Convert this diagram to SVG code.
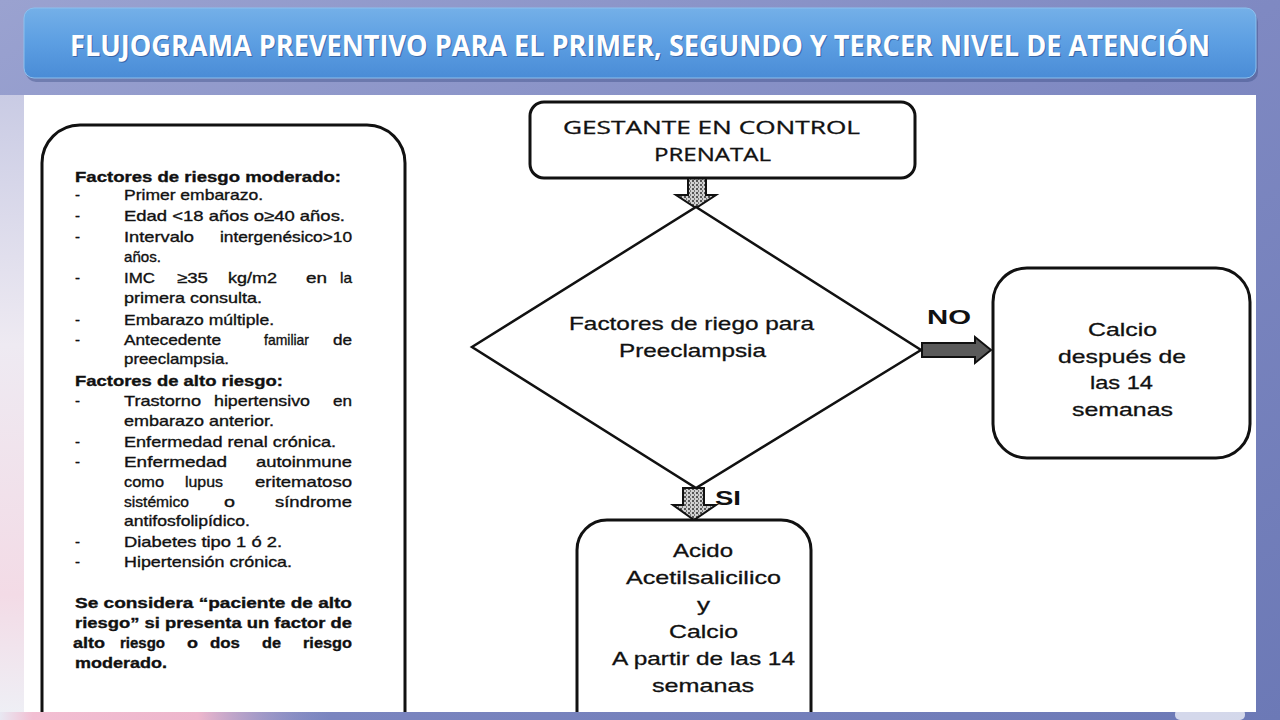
<svg xmlns="http://www.w3.org/2000/svg" width="1280" height="720" viewBox="0 0 1280 720">
<defs>
<linearGradient id="bg" x1="0" y1="0" x2="1" y2="1">
<stop offset="0" stop-color="#9aa2d0"/>
<stop offset="0.5" stop-color="#7f89c2"/>
<stop offset="1" stop-color="#6c79b6"/>
</linearGradient>
<linearGradient id="leftglow" x1="0" y1="0" x2="0" y2="1">
<stop offset="0" stop-color="#c9cbe4"/>
<stop offset="0.4" stop-color="#eeeaf2"/>
<stop offset="0.8" stop-color="#f3dbe6"/>
<stop offset="1" stop-color="#eef0f6"/>
</linearGradient>
<linearGradient id="pink" x1="0" y1="0" x2="1" y2="0">
<stop offset="0" stop-color="#e8e8f2"/>
<stop offset="0.1" stop-color="#f3bed2"/>
<stop offset="0.6" stop-color="#eeb6cc"/>
<stop offset="1" stop-color="#9aa0d0" stop-opacity="0"/>
</linearGradient>
<linearGradient id="titlebar" x1="0" y1="0" x2="0" y2="1">
<stop offset="0" stop-color="#74b0e8"/>
<stop offset="0.5" stop-color="#5c9ee2"/>
<stop offset="1" stop-color="#4a8cd6"/>
</linearGradient>
<pattern id="tex" width="4" height="4" patternUnits="userSpaceOnUse">
<rect width="4" height="4" fill="#d0d0d0"/>
<rect x="0" y="0" width="2" height="2" fill="#555"/>
<rect x="2" y="2" width="1" height="2" fill="#777"/>
</pattern>
<clipPath id="panelclip"><rect x="24" y="95" width="1232" height="617"/></clipPath>
<style>
.box{fill:#fff;stroke:#111;stroke-width:3}
.blk{fill:url(#tex);stroke:#111;stroke-width:2;stroke-linejoin:miter}
.t{font-family:"Liberation Sans",Arial,sans-serif;fill:#111;stroke:#111;stroke-width:0.35;font-size:15px}
.b{font-weight:bold}
.n{font-family:"Liberation Sans",Arial,sans-serif;fill:#111;stroke:#111;stroke-width:0.3;font-size:19px}
.g{font-family:"Open Sans","Liberation Sans",sans-serif;fill:#111;stroke:#111;stroke-width:0.3;font-size:18px}
.lab{font-family:"Liberation Sans",Arial,sans-serif;fill:#111;font-size:21px;font-weight:bold}
.title{font-family:"Open Sans","Liberation Sans",sans-serif;font-weight:bold;fill:#fff;font-size:28px}
</style>
</defs>

<!-- background -->
<rect width="1280" height="720" fill="url(#bg)"/>
<rect x="0" y="95" width="24" height="625" fill="url(#leftglow)"/>
<rect x="0" y="712" width="330" height="8" fill="url(#pink)"/>
<rect x="1175" y="709" width="70" height="11" rx="5" fill="#eef0f8" opacity="0.8"/>

<!-- title bar -->
<g id="title">
<rect x="26" y="12" width="1232" height="70" rx="10" fill="#2b3f78" opacity="0.35"/>
<rect x="24" y="8" width="1232" height="70" rx="10" fill="url(#titlebar)" stroke="#8cc0ee" stroke-width="1"/>
<text class="title" x="641" y="57" text-anchor="middle" textLength="1140" lengthAdjust="spacingAndGlyphs" fill="#2a4a8a" opacity="0.5" style="fill:#1d3b78">FLUJOGRAMA PREVENTIVO PARA EL PRIMER, SEGUNDO Y TERCER NIVEL DE ATENCIÓN</text>
<text class="title" x="640" y="56" text-anchor="middle" textLength="1140" lengthAdjust="spacingAndGlyphs">FLUJOGRAMA PREVENTIVO PARA EL PRIMER, SEGUNDO Y TERCER NIVEL DE ATENCIÓN</text>
</g>

<!-- white panel -->
<rect x="24" y="95" width="1232" height="617" fill="#fff"/>

<g clip-path="url(#panelclip)">

<!-- left risk factors panel -->
<g id="factores">
<rect class="box" x="42" y="125" width="363" height="640" rx="38"/>
<text class="t b" x="75" y="182" textLength="266" lengthAdjust="spacingAndGlyphs">Factores de riesgo moderado:</text>
<text class="t" x="75" y="200">-</text>
<text class="t" x="124" y="200" textLength="139" lengthAdjust="spacingAndGlyphs">Primer embarazo.</text>
<text class="t" x="75" y="221">-</text>
<text class="t" x="124" y="221" textLength="221" lengthAdjust="spacingAndGlyphs">Edad &lt;18 años o≥40 años.</text>
<text class="t" x="75" y="242">-</text>
<text class="t" x="124" y="242" textLength="70" lengthAdjust="spacingAndGlyphs">Intervalo</text>
<text class="t" x="220" y="242" textLength="132" lengthAdjust="spacingAndGlyphs">intergenésico&gt;10</text>
<text class="t" x="124" y="262" textLength="37" lengthAdjust="spacingAndGlyphs">años.</text>
<text class="t" x="75" y="283">-</text>
<text class="t" x="124" y="283" textLength="31" lengthAdjust="spacingAndGlyphs">IMC</text>
<text class="t" x="177" y="283" textLength="31" lengthAdjust="spacingAndGlyphs">≥35</text>
<text class="t" x="228" y="283" textLength="49" lengthAdjust="spacingAndGlyphs">kg/m2</text>
<text class="t" x="306" y="283" textLength="21" lengthAdjust="spacingAndGlyphs">en</text>
<text class="t" x="340" y="283" textLength="12" lengthAdjust="spacingAndGlyphs">la</text>
<text class="t" x="124" y="303" textLength="138" lengthAdjust="spacingAndGlyphs">primera consulta.</text>
<text class="t" x="75" y="325">-</text>
<text class="t" x="124" y="325" textLength="150" lengthAdjust="spacingAndGlyphs">Embarazo múltiple.</text>
<text class="t" x="75" y="345">-</text>
<text class="t" x="124" y="345" textLength="97" lengthAdjust="spacingAndGlyphs">Antecedente</text>
<text class="t" x="264" y="345" textLength="45" lengthAdjust="spacingAndGlyphs">familiar</text>
<text class="t" x="333" y="345" textLength="19" lengthAdjust="spacingAndGlyphs">de</text>
<text class="t" x="124" y="364" textLength="105" lengthAdjust="spacingAndGlyphs">preeclampsia.</text>
<text class="t b" x="75" y="386" textLength="208" lengthAdjust="spacingAndGlyphs">Factores de alto riesgo:</text>
<text class="t" x="75" y="406">-</text>
<text class="t" x="124" y="406" textLength="77" lengthAdjust="spacingAndGlyphs">Trastorno</text>
<text class="t" x="214" y="406" textLength="96" lengthAdjust="spacingAndGlyphs">hipertensivo</text>
<text class="t" x="333" y="406" textLength="19" lengthAdjust="spacingAndGlyphs">en</text>
<text class="t" x="124" y="426" textLength="150" lengthAdjust="spacingAndGlyphs">embarazo anterior.</text>
<text class="t" x="75" y="447">-</text>
<text class="t" x="124" y="447" textLength="212" lengthAdjust="spacingAndGlyphs">Enfermedad renal crónica.</text>
<text class="t" x="75" y="467">-</text>
<text class="t" x="124" y="467" textLength="103" lengthAdjust="spacingAndGlyphs">Enfermedad</text>
<text class="t" x="256" y="467" textLength="96" lengthAdjust="spacingAndGlyphs">autoinmune</text>
<text class="t" x="124" y="487" textLength="40" lengthAdjust="spacingAndGlyphs">como</text>
<text class="t" x="185" y="487" textLength="38" lengthAdjust="spacingAndGlyphs">lupus</text>
<text class="t" x="255" y="487" textLength="97" lengthAdjust="spacingAndGlyphs">eritematoso</text>
<text class="t" x="124" y="507" textLength="65" lengthAdjust="spacingAndGlyphs">sistémico</text>
<text class="t" x="224" y="507" textLength="11" lengthAdjust="spacingAndGlyphs">o</text>
<text class="t" x="275" y="507" textLength="77" lengthAdjust="spacingAndGlyphs">síndrome</text>
<text class="t" x="124" y="526" textLength="126" lengthAdjust="spacingAndGlyphs">antifosfolipídico.</text>
<text class="t" x="75" y="547">-</text>
<text class="t" x="124" y="547" textLength="158" lengthAdjust="spacingAndGlyphs">Diabetes tipo 1 ó 2.</text>
<text class="t" x="75" y="567">-</text>
<text class="t" x="124" y="567" textLength="168" lengthAdjust="spacingAndGlyphs">Hipertensión crónica.</text>
<text class="t b" x="75" y="608" textLength="277" lengthAdjust="spacingAndGlyphs">Se considera “paciente de alto</text>
<text class="t b" x="75" y="628" textLength="277" lengthAdjust="spacingAndGlyphs">riesgo” si presenta un factor de</text>
<text class="t b" x="73" y="648" textLength="32" lengthAdjust="spacingAndGlyphs">alto</text>
<text class="t b" x="120" y="648" textLength="45" lengthAdjust="spacingAndGlyphs">riesgo</text>
<text class="t b" x="187" y="648" textLength="11" lengthAdjust="spacingAndGlyphs">o</text>
<text class="t b" x="210" y="648" textLength="30" lengthAdjust="spacingAndGlyphs">dos</text>
<text class="t b" x="262" y="648" textLength="19" lengthAdjust="spacingAndGlyphs">de</text>
<text class="t b" x="303" y="648" textLength="49" lengthAdjust="spacingAndGlyphs">riesgo</text>
<text class="t b" x="75" y="668" textLength="92" lengthAdjust="spacingAndGlyphs">moderado.</text>
</g>

<!-- connectors -->
<g id="connectors">
<path class="blk" d="M688,178 L706,178 L706,195 L716,195 L696,208 L676,195 L688,195 Z"/>
<path class="blk" d="M922,343 L975,343 L975,337 L991,350 L975,363 L975,357 L922,357 Z" style="fill:#5a5a5a"/>
<text class="lab" x="927" y="324" textLength="44" lengthAdjust="spacingAndGlyphs">NO</text>
<path class="blk" d="M683,488 L704,488 L704,505 L716,505 L694,520 L673,505 L683,505 Z"/>
<text class="lab" x="715" y="505" textLength="26" lengthAdjust="spacingAndGlyphs">SI</text>
</g>

<!-- start node -->
<g id="gestante">
<rect class="box" x="530" y="102" width="385" height="76" rx="14"/>
<text class="g" x="563" y="134" textLength="297" lengthAdjust="spacingAndGlyphs">GESTANTE  EN CONTROL</text>
<text class="g" x="654" y="161" textLength="117" lengthAdjust="spacingAndGlyphs">PRENATAL</text>
</g>

<!-- decision -->
<g id="decision">
<path d="M696,207 L921,350 L696,488 L472,347 Z" fill="#fff" stroke="#111" stroke-width="2.5" stroke-linejoin="miter"/>
<text class="n" x="569" y="330" textLength="245" lengthAdjust="spacingAndGlyphs">Factores de riego para</text>
<text class="n" x="619" y="357" textLength="147" lengthAdjust="spacingAndGlyphs">Preeclampsia</text>
</g>

<!-- NO outcome -->
<g id="calcio">
<rect class="box" x="993" y="268" width="257" height="190" rx="34"/>
<text class="n" x="1088" y="336" textLength="69" lengthAdjust="spacingAndGlyphs">Calcio</text>
<text class="n" x="1058" y="363" textLength="128" lengthAdjust="spacingAndGlyphs">después de</text>
<text class="n" x="1090" y="389" textLength="63" lengthAdjust="spacingAndGlyphs">las 14</text>
<text class="n" x="1072" y="416" textLength="101" lengthAdjust="spacingAndGlyphs">semanas</text>
</g>

<!-- SI outcome -->
<g id="aas">
<rect class="box" x="577" y="520" width="234" height="240" rx="30"/>
<text class="n" x="673" y="557" textLength="60" lengthAdjust="spacingAndGlyphs">Acido</text>
<text class="n" x="626" y="584" textLength="155" lengthAdjust="spacingAndGlyphs">Acetilsalicilico</text>
<text class="n" x="697" y="611" textLength="13" lengthAdjust="spacingAndGlyphs">y</text>
<text class="n" x="669" y="638" textLength="69" lengthAdjust="spacingAndGlyphs">Calcio</text>
<text class="n" x="612" y="665" textLength="183" lengthAdjust="spacingAndGlyphs">A partir de las 14</text>
<text class="n" x="652" y="692" textLength="102" lengthAdjust="spacingAndGlyphs">semanas</text>
</g>

</g>
</svg>
